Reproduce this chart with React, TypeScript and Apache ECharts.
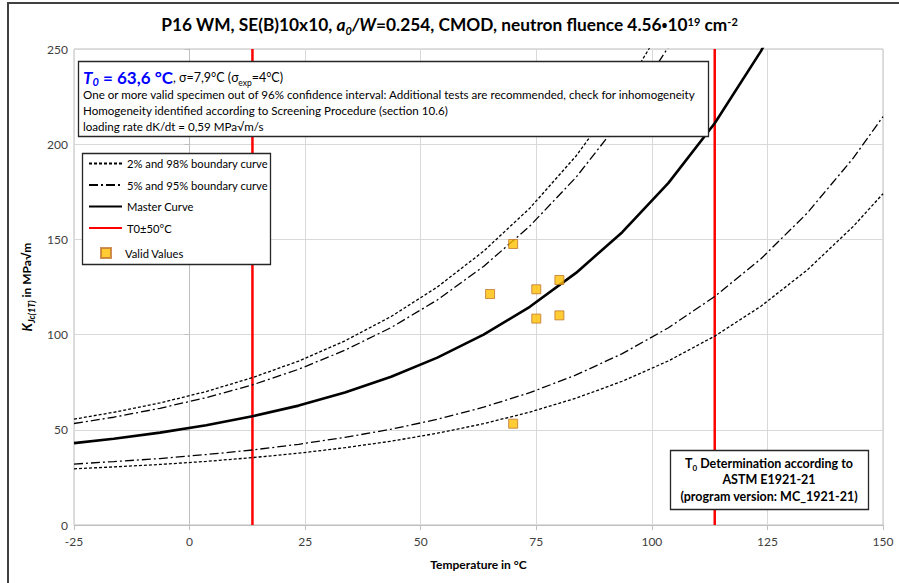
import React, { useEffect, useRef } from "react";
import * as echarts from "echarts";

const tempGrid = [-25, -16.4, -6.4, 3.6, 13.6, 23.6, 33.6, 43.6, 53.6, 63.6, 73.6, 83.6, 93.6, 103.6, 113.6, 123.6, 133.6, 143.6, 150];
const p98 = [55.6, 59.2, 64.1, 70.1, 77.4, 86.1, 96.7, 109.5, 125.0, 143.8, 166.4, 193.8, 227.0, 267.0];
const p95 = [53.3, 56.6, 61.3, 66.9, 73.6, 81.8, 91.8, 103.7, 118.2, 135.8, 157.0, 182.6, 213.6, 251.1];
const p50 = [43.0, 45.3, 48.5, 52.4, 57.1, 62.7, 69.6, 77.9, 87.9, 100.0, 114.6, 132.4, 153.8, 179.7, 211.0, 248.9, 294.7];
const p5 = [32.0, 33.3, 34.9, 37.0, 39.4, 42.4, 46.0, 50.3, 55.5, 61.9, 69.5, 78.8, 90.0, 103.6, 120.0, 139.8, 163.8, 192.8, 214.5];
const p2 = [29.5, 30.5, 31.8, 33.4, 35.4, 37.7, 40.6, 44.0, 48.2, 53.2, 59.3, 66.6, 75.5, 86.2, 99.2, 114.9, 133.9, 156.9, 174.0];

const validTemps = [70, 65, 75, 80, 75, 80, 70];
const validK = [147.6, 121.3, 123.8, 128.7, 108.4, 110.1, 53.2];

const t0Lines = [13.6, 113.6];

const lineLegendNames = [
  "2% and 98% boundary curve",
  "5% and 95% boundary curve",
  "Master Curve",
  "T0±50°C",
];
const pointLegendName = "Valid Values";

const FONT = "Lato, 'Open Sans', sans-serif";

const zip = (vals: number[]) => vals.map((v, i) => [tempGrid[i], v]);

export default function App() {
  const ref = useRef<HTMLDivElement>(null);
  useEffect(() => {
    if (!ref.current) return;
    const chart = echarts.init(ref.current, undefined, { renderer: "svg" });
    const dotted = { color: "#000", width: 1.3, type: [3, 2] as number[] };
    const dashDot = { color: "#000", width: 1.3, type: [9, 3, 2, 3] as number[] };
    const curve = (name: string, vals: number[], ls: any) => ({
      name,
      type: "line",
      data: zip(vals),
      symbol: "none",
      lineStyle: ls,
      itemStyle: { color: "#000" },
      clip: true,
      z: 3,
    });
    const option: any = {
      animation: false,
      textStyle: { fontFamily: FONT },
      title: {
        left: "center",
        top: 11,
        text:
          "{b|P16 WM, SE(B)10x10, }{i|a}{isub|0}{i|/W}{b|=0.254, CMOD, neutron fluence 4.56}{bu|•}{b|10}{sup|19}{b| cm}{sup|-2}",
        textStyle: {
          rich: {
            b: { fontFamily: FONT, fontSize: 17.3, fontWeight: "bold", color: "#000" },
            bu: { fontFamily: "'Open Sans', sans-serif", fontSize: 16, fontWeight: "bold", color: "#000" },
            i: { fontFamily: FONT, fontSize: 17.3, fontWeight: "bold", fontStyle: "italic", color: "#000" },
            isub: { fontFamily: FONT, fontSize: 11, fontWeight: "bold", fontStyle: "italic", color: "#000", verticalAlign: "bottom", padding: [0, 0, -3, 0] },
            sup: { fontFamily: FONT, fontSize: 11, fontWeight: "bold", color: "#000", verticalAlign: "top" },
          },
        },
      },
      grid: { left: 74, right: 16, top: 49, bottom: 58, show: true, borderColor: "#bfbfbf", borderWidth: 1 },
      xAxis: {
        type: "value",
        min: -25,
        max: 150,
        interval: 25,
        name: "Temperature in °C",
        nameLocation: "middle",
        nameGap: 33,
        nameTextStyle: { fontFamily: FONT, fontSize: 12, fontWeight: "bold", color: "#000" },
        axisLine: { show: true, lineStyle: { color: "#bfbfbf" } },
        axisTick: { show: true, length: 5, lineStyle: { color: "#bfbfbf" } },
        axisLabel: { fontFamily: FONT, fontSize: 12, color: "#404040", margin: 10 },
        splitLine: { show: true, lineStyle: { color: "#d9d9d9", width: 1 } },
      },
      yAxis: {
        type: "value",
        min: 0,
        max: 250,
        interval: 50,
        name: "{k|K}{ks|Jc(1T)}{n| in MPa√m}",
        nameLocation: "middle",
        nameGap: 35,
        nameTextStyle: {
          rich: {
            k: { fontFamily: FONT, fontSize: 13, fontWeight: "bold", fontStyle: "italic", color: "#000" },
            ks: { fontFamily: FONT, fontSize: 9, fontWeight: "bold", fontStyle: "italic", color: "#000", verticalAlign: "bottom", padding: [0, 0, -3, 0] },
            n: { fontFamily: FONT, fontSize: 12, fontWeight: "bold", color: "#000" },
          },
        },
        axisLine: { show: true, lineStyle: { color: "#bfbfbf" } },
        axisTick: { show: true, length: 5, lineStyle: { color: "#bfbfbf" } },
        axisLabel: { fontFamily: FONT, fontSize: 12, color: "#404040", margin: 6 },
        splitLine: { show: true, lineStyle: { color: "#d9d9d9", width: 1 } },
      },
      legend: [
        {
          data: lineLegendNames.map((n) => ({ name: n, itemStyle: { opacity: 0 } })),
          orient: "vertical",
          left: 88,
          top: 158,
          padding: 0,
          itemWidth: 33,
          itemHeight: 12,
          itemGap: 10.5,
          z: 200,
          selectedMode: false,
          textStyle: { fontFamily: FONT, fontSize: 11.2, color: "#000" },
        },
        {
          data: [pointLegendName],
          orient: "vertical",
          left: 100,
          top: 247,
          padding: 0,
          itemWidth: 10,
          itemHeight: 10,
          z: 200,
          selectedMode: false,
          textStyle: { fontFamily: FONT, fontSize: 11.2, color: "#000", padding: [0, 0, 0, 9] },
        },
      ],
      series: [
        ...t0Lines.map((t) => ({
          name: "T0±50°C",
          type: "line",
          data: [[t, 0], [t, 250]],
          symbol: "none",
          lineStyle: { color: "#ff0000", width: 2.5 },
          itemStyle: { color: "#ff0000" },
          z: 2,
        })),
        curve("2% and 98% boundary curve", p98, dotted),
        curve("2% and 98% boundary curve", p2, dotted),
        curve("5% and 95% boundary curve", p95, dashDot),
        curve("5% and 95% boundary curve", p5, dashDot),
        curve("Master Curve", p50, { color: "#000", width: 2.6 }),
        {
          name: pointLegendName,
          type: "scatter",
          data: validTemps.map((t, i) => [t, validK[i]]),
          symbol: "rect",
          symbolSize: 9,
          itemStyle: { color: "#FFC000", borderColor: "#C0762F", borderWidth: 1 },
          z: 5,
        },
      ],
      graphic: [
        {
          type: "rect",
          shape: { x: 8, y: 3, width: 900, height: 600 },
          style: { fill: "none", stroke: "#404040", lineWidth: 2 },
          z: 150,
          silent: true,
        },
        {
          type: "rect",
          shape: { x: 78.5, y: 61.5, width: 630, height: 75 },
          style: { fill: "#fff", stroke: "#262626", lineWidth: 1.3 },
          z: 100,
        },
        {
          type: "text",
          x: 83,
          y: 67,
          z: 101,
          style: {
            text:
              "{t|T}{ts|0}{tb| = 63,6 °C}{n|, σ=7,9°C (σ}{ns|exp}{n|=4°C)}\n" +
              "{l|One or more valid specimen out of 96% confidence interval: Additional tests are recommended, check for inhomogeneity}\n" +
              "{l|Homogeneity identified according to Screening Procedure (section 10.6)}\n" +
              "{l|loading rate dK/dt = 0,59 MPa√m/s}",
            rich: {
              t: { fontFamily: FONT, fontSize: 17, fontWeight: "bold", fontStyle: "italic", fill: "#0000ff", lineHeight: 20 },
              ts: { fontFamily: FONT, fontSize: 11, fontWeight: "bold", fontStyle: "italic", fill: "#0000ff", lineHeight: 20, verticalAlign: "bottom" },
              tb: { fontFamily: FONT, fontSize: 17, fontWeight: "bold", fill: "#0000ff", lineHeight: 20 },
              n: { fontFamily: FONT, fontSize: 12.5, fill: "#000", lineHeight: 20 },
              ns: { fontFamily: FONT, fontSize: 8.5, fill: "#000", lineHeight: 20, verticalAlign: "bottom" },
              l: { fontFamily: FONT, fontSize: 11.6, fill: "#000", lineHeight: 15.7 },
            },
          },
        },
        {
          type: "rect",
          shape: { x: 82.5, y: 153.5, width: 188, height: 111 },
          style: { fill: "#fff", stroke: "#262626", lineWidth: 1.3 },
          z: 100,
        },
        {
          type: "rect",
          shape: { x: 670.5, y: 450.5, width: 198, height: 59 },
          style: { fill: "#fff", stroke: "#262626", lineWidth: 1.3 },
          z: 100,
        },
        {
          type: "text",
          x: 769,
          y: 455,
          z: 101,
          style: {
            text:
              "{b|T}{bs|0}{b| Determination according to}\n{b|ASTM E1921-21}\n{b|(program version: MC_1921-21)}",
            align: "center",
            rich: {
              b: { fontFamily: FONT, fontSize: 12.5, fontWeight: "bold", fill: "#000", lineHeight: 16.5, align: "center" },
              bs: { fontFamily: FONT, fontSize: 8, fontWeight: "bold", fill: "#000", lineHeight: 16.5, verticalAlign: "bottom" },
            },
          },
        },
      ],
    };
    chart.setOption(option);
    return () => chart.dispose();
  }, []);
  return (
    <div
      ref={ref}
      style={{ position: "absolute", left: 0, top: 0, width: 899, height: 583, background: "#fff" }}
    />
  );
}
